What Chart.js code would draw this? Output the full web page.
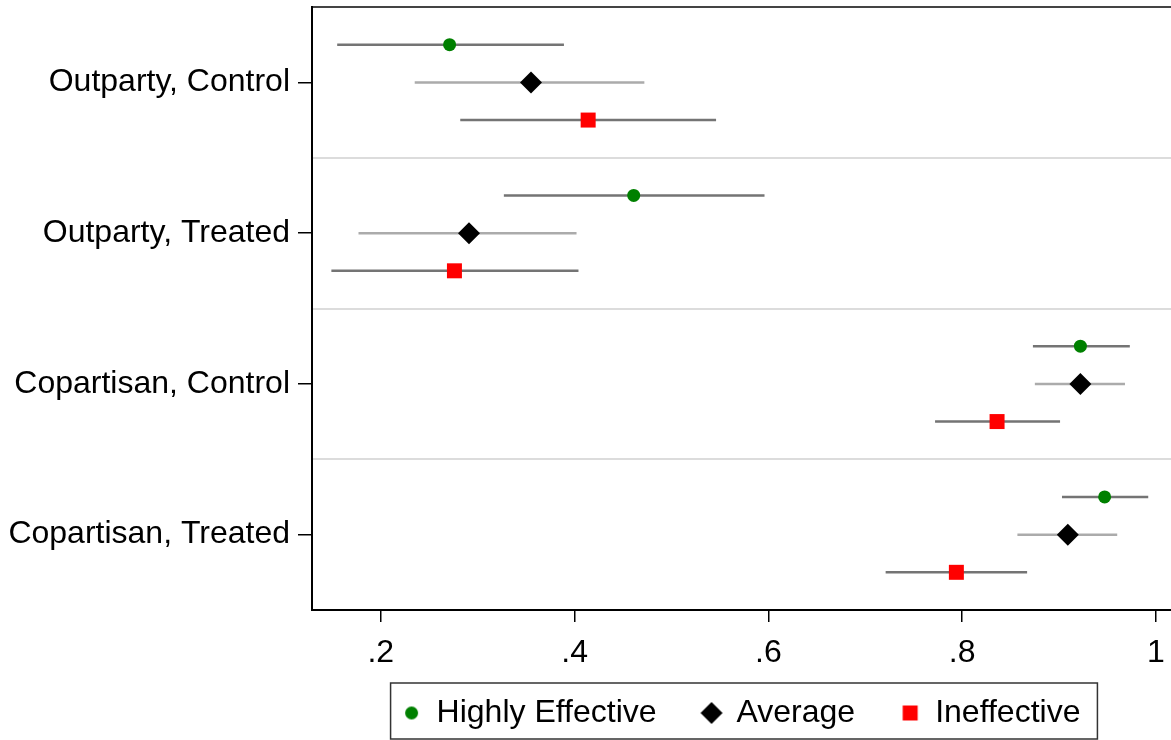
<!DOCTYPE html>
<html lang="en">
<head>
    <meta charset="UTF-8">
    <title>Coefficient plot</title>
    <script src="https://cdn.jsdelivr.net/npm/chart.js"></script>
    <style>
        body { margin: 0; background: #ffffff; }
        #wrap { width: 1171px; height: 740px; position: relative; }
    </style>
</head>
<body>
    <div id="wrap"><canvas id="chart"></canvas></div>

    <script>
        // values
        const categories = ['Outparty, Control', 'Outparty, Treated', 'Copartisan, Control', 'Copartisan, Treated'];
        const xTicks = [0.2, 0.4, 0.6, 0.8, 1.0];

        const highEst = [0.271, 0.461, 0.922, 0.947];
        const highLo  = [0.155, 0.327, 0.873, 0.903];
        const highHi  = [0.389, 0.596, 0.973, 0.992];

        const avgEst = [0.355, 0.291, 0.922, 0.909];
        const avgLo  = [0.235, 0.177, 0.875, 0.857];
        const avgHi  = [0.472, 0.402, 0.968, 0.960];

        const inefEst = [0.414, 0.276, 0.836, 0.794];
        const inefLo  = [0.282, 0.149, 0.772, 0.721];
        const inefHi  = [0.546, 0.404, 0.901, 0.867];

        const FONT = "'Liberation Sans', Arial, sans-serif";

        function points(est, shift) {
            return est.map((v, i) => ({ x: v, y: i + 0.5 + shift }));
        }
        function ciLine(lo, hi, shift) {
            const out = [];
            lo.forEach((v, i) => {
                out.push({ x: v, y: i + 0.5 + shift });
                out.push({ x: hi[i], y: i + 0.5 + shift });
                out.push({ x: null, y: null });
            });
            return out;
        }
        function ciSet(lo, hi, shift, color) {
            return {
                label: 'ci', data: ciLine(lo, hi, shift), showLine: true, spanGaps: false,
                borderColor: color, borderWidth: 2.5, pointRadius: 0, pointHoverRadius: 0, order: 2
            };
        }

        // legend icons at the same size as the markers
        function icon(style, r, color) {
            const c = document.createElement('canvas');
            const s = Math.ceil(2 * r + 2);
            c.width = s; c.height = s;
            const g = c.getContext('2d');
            g.fillStyle = color;
            g.beginPath();
            if (style === 'circle') {
                g.arc(s / 2, s / 2, r, 0, Math.PI * 2);
            } else if (style === 'rectRot') {
                g.moveTo(s / 2 - r, s / 2); g.lineTo(s / 2, s / 2 - r);
                g.lineTo(s / 2 + r, s / 2); g.lineTo(s / 2, s / 2 + r);
                g.closePath();
            } else {
                const h = r * Math.SQRT1_2;
                g.rect(s / 2 - h, s / 2 - h, 2 * h, 2 * h);
            }
            g.fill();
            return c;
        }

        // draws a frame around the legend items
        const legendFrame = {
            id: 'legendFrame',
            afterDraw(chart) {
                const boxes = chart.legend.legendHitBoxes;
                if (!boxes || !boxes.length) return;
                const last = boxes[boxes.length - 1];
                const ctx = chart.ctx;
                ctx.save();
                ctx.strokeStyle = '#333';
                ctx.lineWidth = 1.5;
                ctx.strokeRect(boxes[0].left - 12, boxes[0].top - 14,
                    last.left + last.width - boxes[0].left + 29, 56);
                ctx.restore();
            }
        };

        const series = [
            { label: 'Highly Effective', est: highEst, shift: -0.25, style: 'circle', r: 6.5, color: '#008000' },
            { label: 'Average', est: avgEst, shift: 0, style: 'rectRot', r: 11, color: '#000000' },
            { label: 'Ineffective', est: inefEst, shift: 0.25, style: 'rect', r: 10.6, color: '#ff0000' }
        ];

        const ctx = document.getElementById('chart').getContext('2d');
        new Chart(ctx, {
            type: 'scatter',
            data: {
                datasets: series.map(s => ({
                    label: s.label, data: points(s.est, s.shift), pointStyle: s.style, pointRadius: s.r,
                    pointHoverRadius: s.r, backgroundColor: s.color, borderColor: s.color, borderWidth: 0, order: 0
                })).concat([
                    ciSet(highLo, highHi, -0.25, '#747474'),
                    ciSet(avgLo, avgHi, 0, '#ababab'),
                    ciSet(inefLo, inefHi, 0.25, '#747474')
                ])
            },
            options: {
                responsive: true,
                maintainAspectRatio: false,
                animation: false,
                layout: { autoPadding: false, padding: { left: 10, top: 7, right: 0, bottom: 1 } },
                plugins: {
                    tooltip: { enabled: false },
                    legend: {
                        position: 'bottom',
                        fullSize: false,
                        title: { display: true, text: '', font: { size: 1 }, padding: { top: -17.2, bottom: 0 } },
                        labels: {
                            usePointStyle: true,
                            boxWidth: 18,
                            boxHeight: 9,
                            padding: 46,
                            color: '#000',
                            font: { family: FONT, size: 32 },
                            generateLabels: chart => series.map((s, i) => ({
                                text: s.label, datasetIndex: i, fillStyle: s.color, strokeStyle: s.color,
                                lineWidth: 0, fontColor: '#000', hidden: false,
                                pointStyle: icon(s.style, s.r, s.color)
                            }))
                        }
                    }
                },
                scales: {
                    x: {
                        type: 'linear', position: 'bottom', min: 0.129, max: 1.0155,
                        afterBuildTicks: s => { s.ticks = xTicks.map(v => ({ value: v })); },
                        afterFit: s => { s.height = 57; s.paddingLeft = 0; s.paddingRight = 0; },
                        ticks: {
                            color: '#000', padding: 12,
                            font: { family: FONT, size: 32 },
                            callback: v => v === 1 ? '1' : String(v).replace(/^0/, '')
                        },
                        grid: { drawOnChartArea: false, tickLength: 12, tickColor: '#000', lineWidth: 1.5 },
                        border: { color: '#000', width: 2 }
                    },
                    xTop: {
                        type: 'linear', position: 'top', min: 0.129, max: 1.0155,
                        afterFit: s => { s.height = 0; s.paddingLeft = 0; s.paddingRight = 0; },
                        ticks: { display: false },
                        grid: { drawOnChartArea: false, drawTicks: false },
                        border: { color: '#444', width: 2 }
                    },
                    y: {
                        type: 'linear', position: 'left', min: 0, max: 4, reverse: true,
                        afterBuildTicks: s => { s.ticks = categories.map((c, i) => ({ value: i + 0.5 })); },
                        afterFit: s => { s.width = 302; s.paddingTop = 0; s.paddingBottom = 0; },
                        ticks: {
                            color: '#000', padding: 8,
                            font: { family: FONT, size: 32 },
                            callback: v => categories[Math.round(v - 0.5)]
                        },
                        grid: { drawOnChartArea: false, tickLength: 14, tickColor: '#000', lineWidth: 1.5 },
                        border: { color: '#000', width: 2 }
                    },
                    ySep: {
                        type: 'linear', position: 'left', min: 0, max: 4, reverse: true,
                        afterBuildTicks: s => { s.ticks = [1, 2, 3].map(v => ({ value: v })); },
                        afterFit: s => { s.width = 0; s.paddingTop = 0; s.paddingBottom = 0; },
                        ticks: { display: false },
                        grid: { color: '#dcdcdc', lineWidth: 2, drawTicks: false },
                        border: { display: false }
                    }
                }
            },
            plugins: [legendFrame]
        });
    </script>
</body>
</html>
